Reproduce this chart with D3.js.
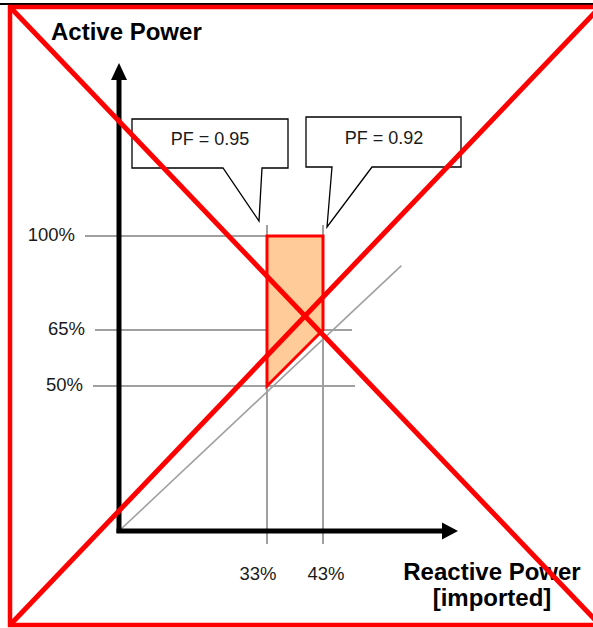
<!DOCTYPE html>
<html>
<head>
<meta charset="utf-8">
<script src="https://cdn.jsdelivr.net/npm/d3@7"></script>
<style>
  html, body { margin: 0; padding: 0; background: #fff; }
  svg { display: block; }
  text { font-family: "Liberation Sans", Arial, sans-serif; }
</style>
</head>
<body>
<svg id="chart" width="593" height="628"></svg>
<script>
// ---- data ----
const yTicks = [100, 65, 50];
const yTickLabels = ["100%", "65%", "50%"];
const xTicks = [33, 43];
const xTickLabels = ["33%", "43%"];
const regionQ = [33, 43, 43, 33];       // reactive power %
const regionP = [100, 100, 65, 50];     // active power %
const pfLineQ = [0, 57];
const pfLineP = [0, 89];
const pfLabels = ["PF = 0.95", "PF = 0.92"];
const yTitle = "Active Power";
const xTitle = ["Reactive Power", "[imported]"];

// ---- layout ----
const L = {
  originX: 119, originY: 531,
  xAxisEnd: 458, yAxisEnd: 63,
  hGridStart: [85, 95, 93], hGridEnd: [323, 352, 355],
  vGridTop: 225, vGridBottom: 544,
  xLabelDx: [-9, 3], xLabelY: 580,
  gray: "#a0a0a0"
};

const svg = d3.select("#chart");
const x = d3.scaleLinear().domain([0, 33, 43]).range([L.originX, 267, 323]);
const y = d3.scaleLinear().domain([0, 50, 65, 100]).range([L.originY, 386, 330, 236]);

// top black rule
svg.append("line").attr("x1", 0).attr("x2", 593).attr("y1", 4).attr("y2", 4)
  .attr("stroke", "#000").attr("stroke-width", 2);

// gridlines
svg.append("g").selectAll("line").data(yTicks).join("line")
  .attr("x1", (d, i) => L.hGridStart[i]).attr("x2", (d, i) => L.hGridEnd[i])
  .attr("y1", d => y(d)).attr("y2", d => y(d))
  .attr("stroke", L.gray).attr("stroke-width", 2);
svg.append("g").selectAll("line").data(xTicks).join("line")
  .attr("x1", d => x(d)).attr("x2", d => x(d))
  .attr("y1", L.vGridTop).attr("y2", L.vGridBottom)
  .attr("stroke", L.gray).attr("stroke-width", 2);

// PF diagonal line
const lineGen = d3.line().x(d => x(d[0])).y(d => y(d[1]));
svg.append("path").datum(pfLineQ.map((q, i) => [q, pfLineP[i]]))
  .attr("d", lineGen).attr("fill", "none")
  .attr("stroke", L.gray).attr("stroke-width", 1.6);

// operating region polygon
svg.append("path").datum(regionQ.map((q, i) => [q, regionP[i]]))
  .attr("d", d => lineGen(d) + "Z")
  .attr("fill", "#ffcc99").attr("stroke", "#ff0000")
  .attr("stroke-width", 3).attr("stroke-linejoin", "miter");

// axes with arrows
svg.append("line").attr("x1", L.originX).attr("x2", L.originX)
  .attr("y1", L.originY + 2).attr("y2", L.yAxisEnd + 15)
  .attr("stroke", "#000").attr("stroke-width", 5);
svg.append("path")
  .attr("d", `M${L.originX - 8},${L.yAxisEnd + 17} L${L.originX + 8},${L.yAxisEnd + 17} L${L.originX},${L.yAxisEnd} Z`)
  .attr("fill", "#000");
svg.append("line").attr("x1", L.originX - 2.5).attr("x2", L.xAxisEnd - 15)
  .attr("y1", L.originY).attr("y2", L.originY)
  .attr("stroke", "#000").attr("stroke-width", 5);
svg.append("path")
  .attr("d", `M${L.xAxisEnd - 16},${L.originY - 8.5} L${L.xAxisEnd - 16},${L.originY + 8.5} L${L.xAxisEnd},${L.originY} Z`)
  .attr("fill", "#000");

// tick labels
svg.append("g").selectAll("text").data(yTicks).join("text")
  .attr("x", (d, i) => L.hGridStart[i] - 10)
  .attr("y", d => y(d) + 5)
  .attr("text-anchor", "end").attr("font-size", 18.5).attr("fill", "#1a1a1a")
  .text((d, i) => yTickLabels[i]);
svg.append("g").selectAll("text").data(xTicks).join("text")
  .attr("x", (d, i) => x(d) + L.xLabelDx[i])
  .attr("y", L.xLabelY)
  .attr("text-anchor", "middle").attr("font-size", 18.5).attr("fill", "#1a1a1a")
  .text((d, i) => xTickLabels[i]);

// callouts
const callouts = [
  { d: "M132,119 H288 V168 H262 L259,221 L223,168 H132 Z", tx: 210, ty: 145 },
  { d: "M306,117 H461 V167 H372 L327,227 L332,167 H306 Z", tx: 384, ty: 144 }
];
const cg = svg.append("g").selectAll("g").data(callouts).join("g");
cg.append("path").attr("d", d => d.d).attr("fill", "#fff")
  .attr("stroke", "#000").attr("stroke-width", 1.3).attr("stroke-linejoin", "miter");
cg.append("text").attr("x", d => d.tx).attr("y", d => d.ty)
  .attr("text-anchor", "middle").attr("font-size", 18).attr("fill", "#1a1a1a")
  .text((d, i) => pfLabels[i]);

// axis titles
svg.append("text").attr("x", 51).attr("y", 40)
  .attr("font-size", 24).attr("font-weight", "bold").attr("fill", "#000")
  .text(yTitle);
svg.append("text").attr("x", 492).attr("y", 580).attr("text-anchor", "middle")
  .attr("font-size", 24).attr("font-weight", "bold").attr("fill", "#000")
  .text(xTitle[0]);
svg.append("text").attr("x", 492).attr("y", 606).attr("text-anchor", "middle")
  .attr("font-size", 24).attr("font-weight", "bold").attr("fill", "#000")
  .text(xTitle[1]);

// red frame with cross
const red = svg.append("g").attr("stroke", "#ff0000").attr("fill", "none");
red.append("rect").attr("x", 10).attr("y", 7).attr("width", 590).attr("height", 618)
  .attr("stroke-width", 4.5);
red.append("line").attr("x1", 10).attr("y1", 7).attr("x2", 600).attr("y2", 625)
  .attr("stroke-width", 5);
red.append("line").attr("x1", 600).attr("y1", 7).attr("x2", 10).attr("y2", 625)
  .attr("stroke-width", 5);
</script>
</body>
</html>
